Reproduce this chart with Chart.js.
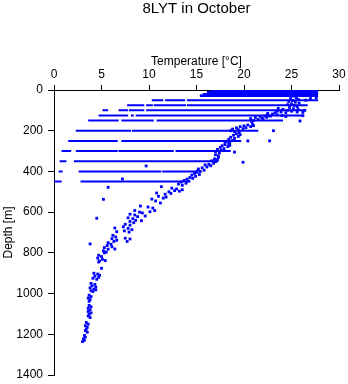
<!DOCTYPE html>
<html>
<head>
<meta charset="utf-8">
<script src="https://cdn.jsdelivr.net/npm/chart.js@4/dist/chart.umd.min.js"></script>
<style>
  html, body { margin: 0; padding: 0; background: #fff; }
  #wrap { width: 348px; height: 384px; }
</style>
</head>
<body>
<div id="wrap"><canvas id="tempChart" width="348" height="384"></canvas></div>
<script>
// Datos del perfil
const chartTitle = '8LYT in October';
const xTicks = [0, 5, 10, 15, 20, 25, 30];
const yTicks = [0, 200, 400, 600, 800, 1000, 1200, 1400];

// profundidades estandar con rachas horizontales de puntos
const streakDepths = [0, 10, 20, 30, 50, 75, 100, 125, 150, 200, 250, 300, 350, 400, 450];
// tramos [temp inicio, temp fin] para cada profundidad
const streakRuns = [
    [[17.0, 27.7]],
    [[16.2, 27.7]],
    [[15.9, 27.7]],
    [[15.5, 27.7]],
    [[10.4, 10.7], [10.9, 11.4], [11.8, 13.7], [14.1, 27.7]],
    [[7.8, 9.4], [9.8, 10.3], [10.6, 13.8], [14.1, 26.6]],
    [[5.2, 5.6], [6.9, 7.7], [8.0, 8.3], [8.5, 9.1], [9.3, 9.4], [9.8, 26.2]],
    [[4.8, 5.7], [5.9, 7.2], [7.3, 7.7], [8.2, 8.3], [8.7, 26.0]],
    [[3.7, 4.1], [4.3, 6.2], [6.4, 6.7], [7.2, 10.4], [10.9, 24.0]],
    [[2.4, 2.7], [2.9, 8.0], [8.3, 9.1], [9.3, 21.4]],
    [[1.6, 6.6], [7.2, 8.0], [8.2, 19.6]],
    [[0.9, 1.7], [2.4, 6.6], [6.9, 12.5], [12.9, 18.5]],
    [[0.7, 1.2], [2.2, 17.2]],
    [[0.6, 0.8], [2.7, 11.2], [11.5, 15.1]],
    [[0.0, 0.2], [0.4, 0.7], [2.9, 14.0]]
];

// puntos sueltos del perfil [temperatura, profundidad]
const profilePoints = [
    [16.9, 3], [16.6, 8], [16.3, 15], [15.8, 22], [15.5, 28], [16.0, 25],
    [25.2, 30], [25.5, 38], [24.9, 42], [25.7, 46], [25.1, 52], [24.7, 56], [25.4, 60], [25.8, 64],
    [25.0, 68], [24.6, 72], [25.3, 76], [25.6, 82], [24.8, 86], [25.2, 92], [25.7, 96],
    [27.6, 38], [27.0, 42], [26.5, 50],
    [23.6, 90], [24.1, 95], [24.6, 100], [25.0, 104], [25.6, 108], [26.2, 110], [26.4, 100], [23.9, 108],
    [24.4, 112], [23.5, 104],
    [22.5, 115], [23.0, 118], [23.5, 122], [24.0, 126], [24.4, 130], [22.8, 128], [23.3, 112], [22.4, 124],
    [20.7, 140], [21.2, 135], [21.7, 130], [22.2, 128], [22.6, 126], [21.0, 150], [21.5, 145], [22.0, 142],
    [20.8, 155], [21.9, 138], [22.4, 134],
    [20.9, 168], [20.4, 172], [20.0, 176], [19.6, 180], [19.2, 186], [18.8, 192], [18.6, 200], [19.4, 195],
    [20.2, 185], [20.7, 180], [19.9, 190], [19.0, 204], [21.0, 175],
    [19.5, 210], [19.2, 215], [18.9, 222], [19.4, 228], [18.6, 232], [19.0, 238], [18.4, 242], [18.8, 248],
    [18.2, 252], [18.5, 258], [19.6, 220], [18.0, 256],
    [18.4, 264], [18.0, 268], [17.7, 274], [18.3, 278], [17.5, 282], [17.9, 288], [17.2, 292], [17.6, 296],
    [17.0, 302], [18.5, 272],
    [25.9, 152], [26.2, 126], [23.1, 200], [20.4, 250], [22.7, 250], [19.0, 305], [19.9, 355], [17.3, 332],
    [17.4, 310], [17.0, 318], [17.3, 324], [16.9, 338], [17.2, 342],
    [16.6, 348], [17.0, 352], [16.8, 360], [16.3, 365], [16.5, 372], [15.9, 368], [16.1, 378], [15.6, 382],
    [15.2, 388], [15.8, 394], [15.4, 400], [15.0, 404], [14.8, 410], [15.3, 415], [14.5, 418], [14.9, 424],
    [14.3, 430], [14.6, 434], [15.1, 398],
    [14.0, 438], [13.7, 444], [14.2, 448], [13.4, 452], [13.9, 458], [13.1, 462], [13.5, 468],
    [11.3, 475], [12.4, 482], [12.9, 486], [13.5, 490], [13.2, 497], [12.7, 494], [12.1, 500], [10.8, 506],
    [11.7, 512], [12.3, 508], [11.5, 531], [10.3, 536], [11.0, 522], [11.8, 526], [11.2, 555], [10.7, 545],
    [9.9, 575], [10.4, 580], [10.6, 592], [9.1, 570], [8.5, 592], [9.0, 600], [9.3, 604], [9.6, 619],
    [10.1, 598],
    [8.0, 610], [8.5, 614], [8.8, 622], [7.8, 628], [8.3, 632], [8.6, 640], [8.0, 646], [9.2, 642],
    [8.4, 652],
    [7.5, 660], [8.0, 664], [7.3, 672], [7.8, 680], [8.2, 686], [7.4, 692], [7.9, 698], [6.4, 678],
    [6.6, 696],
    [6.2, 714], [6.5, 722], [6.1, 730], [6.6, 738], [6.3, 744], [7.5, 728], [8.0, 732], [7.7, 744],
    [5.7, 750], [6.0, 758], [5.6, 764], [6.1, 770], [6.4, 781], [5.3, 774], [5.7, 782], [5.2, 790],
    [5.5, 796], [5.3, 800],
    [4.7, 812], [5.0, 818], [4.6, 826], [5.1, 832], [4.8, 840], [5.4, 838], [4.7, 845], [5.0, 876],
    [4.2, 900], [4.6, 904], [4.8, 910], [4.3, 914], [4.7, 920], [4.1, 925], [4.5, 930],
    [3.9, 950], [4.3, 955], [4.0, 962], [4.4, 968], [3.8, 972], [4.2, 978], [4.4, 982], [3.9, 986],
    [4.1, 990],
    [3.7, 1008], [3.9, 1015], [3.6, 1022], [3.8, 1030], [3.7, 1038],
    [3.7, 1058], [3.9, 1065], [3.6, 1072], [3.8, 1080], [3.6, 1088], [3.9, 1095], [3.7, 1102], [3.6, 1110],
    [3.8, 1118],
    [3.4, 1142], [3.6, 1150], [3.3, 1158], [3.5, 1166], [3.4, 1174], [3.3, 1182], [3.5, 1190],
    [3.2, 1206], [3.3, 1214], [3.1, 1222], [3.2, 1230], [3.0, 1236],
    [5.7, 478], [5.2, 537], [4.5, 630], [3.8, 756], [9.7, 373], [7.2, 437]
];

const blue = '#0000ff';
const fontName = '"Liberation Sans", Arial, sans-serif';

// rachas -> puntos con huecos (null) entre tramos
const streakData = [];
streakDepths.forEach(function (d, i) {
    streakRuns[i].forEach(function (run) {
        streakData.push({ x: run[0], y: d });
        streakData.push({ x: run[1], y: d });
        streakData.push({ x: null, y: null });
    });
});

const profileData = profilePoints.map(function (p) {
    return { x: p[0], y: p[1] };
});

// titulo centrado sobre el area del grafico
const titlePlugin = {
    id: 'topTitle',
    afterDraw: function (chart) {
        const ctx = chart.ctx;
        const area = chart.chartArea;
        ctx.save();
        ctx.font = '15px ' + fontName;
        ctx.fillStyle = '#000';
        ctx.textAlign = 'center';
        ctx.textBaseline = 'top';
        ctx.fillText(chartTitle, (area.left + area.right) / 2, 1);
        ctx.restore();
    }
};

const ctx = document.getElementById('tempChart').getContext('2d');
const tempChart = new Chart(ctx, {
    type: 'scatter',
    data: {
        datasets: [{
            label: 'streaks',
            data: streakData,
            showLine: true,
            spanGaps: false,
            borderColor: blue,
            borderWidth: 2,
            borderCapStyle: 'square',
            pointRadius: 0,
            pointHoverRadius: 0
        }, {
            label: 'profile',
            data: profileData,
            pointStyle: 'rect',
            pointRadius: 2,
            backgroundColor: blue,
            borderWidth: 0
        }]
    },
    options: {
        responsive: false,
        animation: false,
        devicePixelRatio: 1,
        layout: {
            autoPadding: false,
            padding: { left: 0, top: 0, right: 9, bottom: 9 }
        },
        plugins: {
            legend: { display: false },
            tooltip: { enabled: false }
        },
        scales: {
            x: {
                type: 'linear',
                position: 'top',
                min: 0,
                max: 30,
                afterFit: function (scale) {
                    scale.height = 90;
                    scale.paddingLeft = 0;
                    scale.paddingRight = 0;
                },
                afterBuildTicks: function (scale) {
                    scale.ticks = xTicks.map(function (v) { return { value: v }; });
                },
                title: {
                    display: true,
                    text: 'Temperature [°C]',
                    color: '#000',
                    font: { family: fontName, size: 12 },
                    padding: { top: 54, bottom: 0 }
                },
                ticks: {
                    color: '#000',
                    padding: 3,
                    maxRotation: 0,
                    font: { family: fontName, size: 12 },
                    callback: function (v) { return String(v); }
                },
                grid: {
                    drawOnChartArea: false,
                    drawTicks: true,
                    tickLength: 5,
                    tickColor: '#000'
                },
                border: { display: true, color: '#000', width: 1 }
            },
            y: {
                type: 'linear',
                reverse: true,
                min: 0,
                max: 1400,
                afterFit: function (scale) {
                    scale.width = 54;
                    scale.paddingTop = 0;
                    scale.paddingBottom = 0;
                },
                afterBuildTicks: function (scale) {
                    scale.ticks = yTicks.map(function (v) { return { value: v }; });
                },
                title: {
                    display: true,
                    text: 'Depth [m]',
                    color: '#000',
                    font: { family: fontName, size: 12 },
                    padding: { top: 1, bottom: 0 }
                },
                ticks: {
                    color: '#000',
                    padding: 5,
                    font: { family: fontName, size: 12 },
                    callback: function (v) { return String(v); }
                },
                grid: {
                    drawOnChartArea: false,
                    drawTicks: true,
                    tickLength: 6,
                    tickColor: '#000'
                },
                border: { display: true, color: '#000', width: 1 }
            }
        }
    },
    plugins: [titlePlugin]
});
</script>
</body>
</html>
